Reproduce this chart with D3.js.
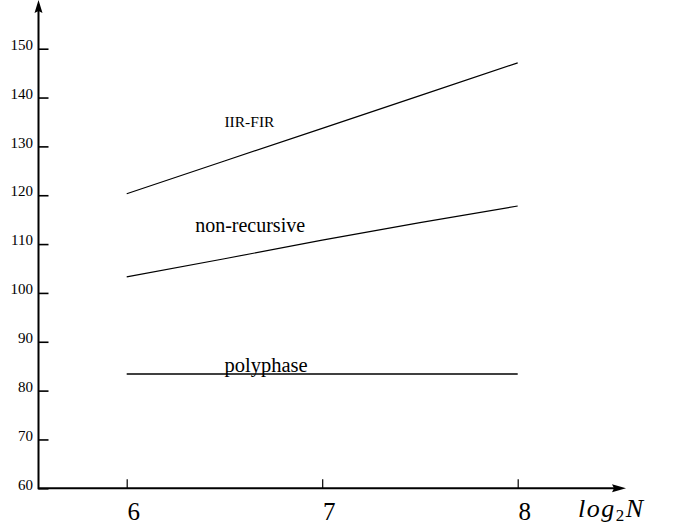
<!DOCTYPE html>
<html>
<head>
<meta charset="utf-8">
<script src="https://cdn.jsdelivr.net/npm/d3@7"></script>
<style>
  html, body { margin: 0; padding: 0; background: #fff; }
  svg { display: block; }
  text { fill: #000; }
</style>
</head>
<body>
<svg id="chart" width="674" height="526"></svg>
<script>
// ---- data ----
const log2N = [6, 6.5, 7, 7.5, 8];
const iirFir = [120.3, 127.0, 133.7, 140.4, 147.1];
const nonRecursive = [103.3, 107.0, 110.8, 114.4, 117.8];
const polyphase = [83.4, 83.4, 83.4, 83.4, 83.4];
const xTicks = [6, 7, 8];
const yTicks = [60, 70, 80, 90, 100, 110, 120, 130, 140, 150];
const seriesNames = ["IIR-FIR", "non-recursive", "polyphase"];
// label anchor positions in data coordinates [log2N, value]
const labelPos = [[6.5, 134.0], [6.35, 112.5], [6.5, 83.8]];

const SERIF = "'Liberation Serif'";

// ---- layout ----
const svg = d3.select("#chart");
const x = d3.scaleLinear().domain([6, 8]).range([126.7, 517.7]);
const y = d3.scaleLinear().domain([60, 150]).range([488.3, 48.7]);
const axisX0 = 38.5;

// y axis ticks + labels
const yAxis = d3.axisLeft(y).tickValues(yTicks).tickSizeInner(-10).tickSizeOuter(0).tickPadding(5.5).tickFormat(d3.format("d"));
const gy = svg.append("g").attr("transform", `translate(${axisX0},0)`).call(yAxis);
gy.attr("font-family", null).attr("font-size", null);
gy.select(".domain").remove();
gy.selectAll(".tick line").attr("stroke", "#000").attr("stroke-width", 1.6);
gy.selectAll(".tick text")
  .attr("dy", "0.05em")
  .style("font-family", SERIF)
  .style("font-size", "15px")
  .attr("fill", "#000");

// x axis ticks + labels
const xAxis = d3.axisBottom(x).tickValues(xTicks).tickSizeInner(-9).tickSizeOuter(0).tickPadding(14).tickFormat(d3.format("d"));
const gx = svg.append("g").attr("transform", `translate(0,${y(60)})`).call(xAxis);
gx.attr("font-family", null).attr("font-size", null);
gx.select(".domain").remove();
gx.selectAll(".tick line").attr("stroke", "#000").attr("stroke-width", 1.2);
gx.selectAll(".tick text")
  .attr("x", 6.5)
  .style("font-family", SERIF)
  .style("font-size", "25px")
  .attr("fill", "#000");

// axis lines with arrows
svg.append("line").attr("x1", axisX0 - 0.5).attr("x2", 616).attr("y1", y(60)).attr("y2", y(60))
  .attr("stroke", "#000").attr("stroke-width", 2);
svg.append("path").attr("d", `M626,${y(60)} L612,${y(60) - 4} L614,${y(60)} L612,${y(60) + 4} Z`).attr("fill", "#000");
svg.append("line").attr("x1", axisX0).attr("x2", axisX0).attr("y1", y(60) + 1).attr("y2", 10)
  .attr("stroke", "#000").attr("stroke-width", 2);
svg.append("path").attr("d", `M${axisX0},0 L${axisX0 - 4},13 L${axisX0},11 L${axisX0 + 4},13 Z`).attr("fill", "#000");

// x axis title
const title = svg.append("text").attr("x", 578).attr("y", 517)
  .style("font-family", SERIF)
  .style("font-style", "italic").style("font-size", "26px")
  .style("letter-spacing", "1.5px");
title.append("tspan").text("log");
title.append("tspan").attr("dy", 4).style("font-size", "17px").style("font-style", "normal").text("2");
title.append("tspan").attr("dy", -4).text("N");

// series lines
const line = d3.line().x((d, i) => x(log2N[i])).y(d => y(d));
const allSeries = [iirFir, nonRecursive, polyphase];
const widths = [1.2, 1.2, 1.5];
allSeries.forEach((s, i) => {
  svg.append("path").datum(s).attr("d", line).attr("fill", "none")
    .attr("stroke", "#000").attr("stroke-width", widths[i]);
});

// series labels
const labelSizes = [15.5, 20, 20.5];
seriesNames.forEach((n, i) => {
  svg.append("text").attr("x", x(labelPos[i][0])).attr("y", y(labelPos[i][1]))
    .style("font-family", SERIF)
    .style("font-size", labelSizes[i] + "px").text(n);
});
</script>
</body>
</html>
